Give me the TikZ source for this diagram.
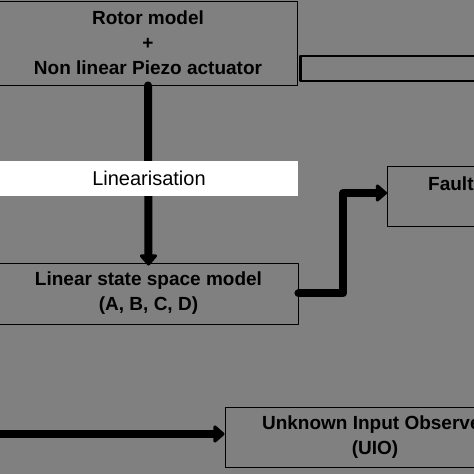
\documentclass[tikz,border=0pt]{standalone}
\usepackage{fontspec}
\setmainfont{Liberation Sans}
\usepackage{xcolor}
\usetikzlibrary{arrows.meta}
\usetikzlibrary{calc}
\usetikzlibrary{positioning}
\definecolor{bggrey}{RGB}{128,128,128}

\begin{document}
\begin{tikzpicture}[x=1pt,y=1pt,>={Triangle[length=12pt,width=20pt,round]},line join=round]
 				 \tikzstyle{block}=[draw=black, fill=bggrey, text=black, line width=0.9pt, font=\fontsize{19}{25}\selectfont\bfseries, align=center, inner sep=0pt]
 				 \tikzstyle{flow}=[->, draw=black, line width=8pt, line cap=round]
 				 \useasboundingbox (0,0) rectangle (474,474);
 				 \clip (0,0) rectangle (474,474);
 				 \fill[bggrey] (0,0) rectangle (474,474);
 					 \node[block, minimum width=298, minimum height=84] 	(rotor) at (148,431) {Rotor model\\+\\Non linear Piezo actuator};
 					 \node[block, draw, fill=none, line width=2.5pt, minimum width=200, minimum height=25, anchor=west] (link) at (299,405.5) {};
 					 \node[block, minimum width=299, minimum height=61] 	(lss) at (148.5,180.5) {Linear state space model\\(A, B, C, D)};
 					 \node[block, minimum width=200, minimum height=60, anchor=west] (fault) at (387,278) {};
 					 \node[font=\fontsize{19}{25}\selectfont\bfseries, inner sep=0pt, anchor=west] (faultlabel) [right=41 of fault.west, yshift=12] {Fault};
 					 \node[block, minimum width=300, minimum height=60] 	(uio) at (375,37) {Unknown Input Observer\\(UIO)};
 					 \coordinate (uioin) at (-10,40);
 					 \coordinate (bend) at (343,281);
				\path[flow]
				(rotor.south) edge ([yshift=-3]lss.north)
				(uioin) edge (uioin -| uio.west);
				\draw[flow] (lss.east) -| (bend) -- (bend -| fault.west);
 					 \node[fill=white, text=black, font=\fontsize{20}{24}\selectfont, minimum width=298, minimum height=35, inner sep=0pt] (lin) at (149,295.5) {Linearisation};
\end{tikzpicture}
\end{document}
